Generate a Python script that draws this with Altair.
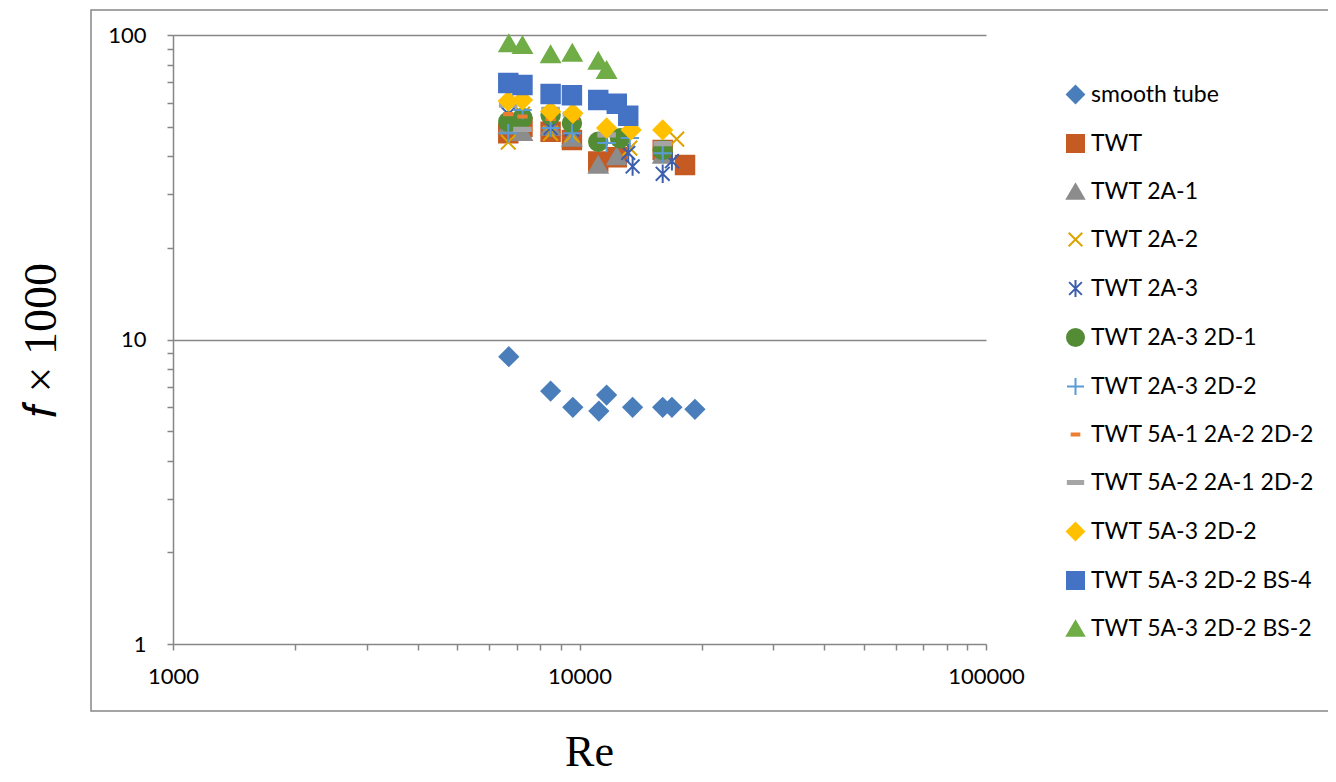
import altair as alt
import pandas as pd

series_names = [
    "smooth tube", "TWT", "TWT 2A-1", "TWT 2A-2", "TWT 2A-3", "TWT 2A-3 2D-1",
    "TWT 2A-3 2D-2", "TWT 5A-1 2A-2 2D-2", "TWT 5A-2 2A-1 2D-2", "TWT 5A-3 2D-2",
    "TWT 5A-3 2D-2 BS-4", "TWT 5A-3 2D-2 BS-2",
]
re_values = [
    [6700, 8490, 9630, 11160, 11660, 13510, 16020, 16880, 19230],
    [6680, 7240, 8490, 9580, 11120, 12350, 16020, 18180],
    [6680, 7240, 8490, 9580, 11120, 12350, 16020],
    [6680, 7240, 8490, 9580, 13300, 17340],
    [6680, 7240, 8490, 9580, 13180, 13510, 16020, 16880],
    [6680, 7240, 8490, 9580, 11120, 12580, 16020],
    [6680, 7240, 8490, 9580, 11660, 13300, 16020],
    [6680, 7240, 8490, 9700, 13500, 16020],
    [6680, 7240, 8490, 9580, 11660, 16020],
    [6680, 7240, 8490, 9630, 11660, 13400, 16020],
    [6680, 7240, 8490, 9580, 11120, 12350, 13180],
    [6700, 7240, 8490, 9600, 11120, 11660],
]
f_values = [
    [8.78, 6.77, 5.99, 5.82, 6.57, 5.99, 5.99, 5.99, 5.90],
    [47.6, 49.9, 48.1, 45.2, 38.4, 39.7, 41.9, 37.4],
    [50.5, 48.0, 50.0, 46.0, 37.5, 40.0, 40.4],
    [44.5, 55.0, 47.5, 47.0, 42.5, 45.5],
    [55.0, 54.0, 49.5, 49.0, 41.0, 37.0, 35.0, 38.5],
    [51.9, 53.4, 54.6, 51.3, 44.6, 45.8, 41.9],
    [47.6, 56.7, 49.5, 47.6, 44.2, 45.9, 40.9],
    [55.0, 54.0, 53.0, 53.3, 56.0, 44.0],
    [58.9, 49.0, 57.0, 55.0, 47.0, 44.0],
    [60.7, 61.2, 56.1, 55.3, 49.5, 48.8, 48.8],
    [69.6, 68.5, 64.0, 63.4, 61.2, 59.5, 54.3],
    [93.9, 92.7, 86.4, 87.5, 82.3, 76.8],
]
colors = [
    "#4A7EBB", "#C55A22", "#8C8C8C", "#DDA400", "#3B5FAD", "#548C35",
    "#5B9BD5", "#ED7D31", "#A5A5A5", "#FFC000", "#4472C4", "#70AD47",
]
shapes = [
    "diamond", "square", "triangle-up",
    "M-0.8,-0.8L0.8,0.8M-0.8,0.8L0.8,-0.8",
    "M-0.75,-0.75L0.75,0.75M-0.75,0.75L0.75,-0.75M0,-1L0,1",
    "circle",
    "M-1,0L1,0M0,-1L0,1",
    "M-0.45,-0.12L0.45,-0.12L0.45,0.12L-0.45,0.12Z",
    "M-0.9,-0.18L0.9,-0.18L0.9,0.18L-0.9,0.18Z",
    "diamond", "square", "triangle-up",
]
x_ticks = [1000, 2000, 3000, 4000, 5000, 6000, 7000, 8000, 9000,
           10000, 20000, 30000, 40000, 50000, 60000, 70000, 80000, 90000, 100000]
y_ticks = [1, 2, 3, 4, 5, 6, 7, 8, 9, 10, 20, 30, 40, 50, 60, 70, 80, 90, 100]

rows = []
for name, res, fs in zip(series_names, re_values, f_values):
    for r, f in zip(res, fs):
        rows.append({"series": name, "Re": r, "f": f})
df = pd.DataFrame(rows)

GRAY = "#868686"
W, H = 813, 609

frame = alt.Chart(pd.DataFrame({"k": [0]})).mark_rect(
    fillOpacity=0, stroke=GRAY, strokeWidth=1.5
).encode(
    x=alt.value(-82), x2=alt.value(1200), y=alt.value(-25), y2=alt.value(676)
)

points = alt.Chart(df).mark_point(filled=True, size=340, strokeWidth=2, opacity=1).encode(
    x=alt.X(
        "Re:Q",
        scale=alt.Scale(type="log", domain=[1000, 100000], nice=False),
        axis=alt.Axis(
            values=x_ticks,
            labelExpr="datum.value == 1000 || datum.value == 10000 || datum.value == 100000 ? format(datum.value, 'd') : ''",
            grid=False, labelFlush=False, labelOverlap=False, labelPadding=16,
            title="Re", titleFont="Liberation Serif", titleFontSize=44, titleFontWeight="normal",
            titleX=416, titleY=121, titleAlign="center", titleBaseline="alphabetic",
        ),
    ),
    y=alt.Y(
        "f:Q",
        scale=alt.Scale(type="log", domain=[1, 100], nice=False),
        axis=alt.Axis(
            values=y_ticks,
            labelExpr="datum.value == 1 || datum.value == 10 || datum.value == 100 ? datum.label : ''",
            grid=True,
            gridOpacity={"condition": {"test": "datum.value == 10 || datum.value == 100", "value": 1}, "value": 0},
            labelFlush=False, labelOverlap=False, labelPadding=21,
            title="𝑓  ×  1000", titleFont="Liberation Serif", titleFontSize=46, titleFontWeight="normal",
            titleX=-132, titleY=305, titleAlign="center", titleBaseline="middle", titleAngle=270,
        ),
    ),
    color=alt.Color(
        "series:N",
        scale=alt.Scale(domain=series_names, range=colors),
        legend=alt.Legend(
            title=None, orient="none", legendX=891, legendY=48,
            labelFont="Lato", labelFontSize=23, labelColor="black", labelLimit=0,
            symbolSize=289, symbolStrokeWidth=2, rowPadding=24, labelOffset=4, padding=0,
        ),
    ),
    stroke=alt.Stroke("series:N", scale=alt.Scale(domain=series_names, range=colors)),
    shape=alt.Shape("series:N", scale=alt.Scale(domain=series_names, range=shapes)),
)

chart = alt.layer(frame, points).properties(
    width=W, height=H,
    autosize=alt.AutoSizeParams(type="none"),
    padding={"left": 165, "top": 27, "right": 342, "bottom": 130},
).configure_view(strokeWidth=0).configure_axis(
    labelFont="Lato", labelFontSize=22, labelColor="black",
    domainColor=GRAY, domainWidth=1.5, tickColor=GRAY, tickWidth=1.5, tickSize=6,
    gridColor=GRAY, gridWidth=1.5, titleColor="black",
)

chart.save("out.html", embed_options={"renderer": "svg", "actions": False})
